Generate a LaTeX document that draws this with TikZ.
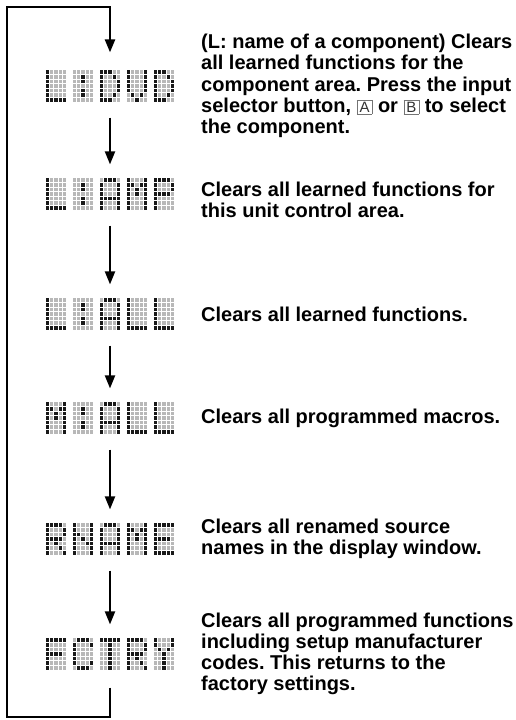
\documentclass[tikz,border=0pt]{standalone}
\usepackage{fontspec}
\setmainfont{Liberation Sans}
\usepackage{xcolor}
\usepackage{tikz}
\usetikzlibrary{arrows.meta}
\frenchspacing
\newcommand{\descsize}{\fontsize{20}{21.2}\selectfont}
\newcommand{\keybox}[1]{{\setlength{\fboxsep}{1.4pt}\setlength{\fboxrule}{0.7pt}%
  \fcolorbox{black!55}{white}{\makebox[11.5pt]{\mdseries\fontsize{15}{15}\selectfont\color{black!80}#1}}}}
% 5x7 dot patterns, rows top to bottom
\newcommand{\glyphL}{{1,0,0,0,0},{1,0,0,0,0},{1,0,0,0,0},{1,0,0,0,0},{1,0,0,0,0},{1,0,0,0,0},{1,1,1,1,1}}
\newcommand{\glyphcolon}{{0,0,0,0,0},{0,0,1,0,0},{0,0,1,0,0},{0,0,0,0,0},{0,0,1,0,0},{0,0,1,0,0},{0,0,0,0,0}}
\newcommand{\glyphD}{{1,1,1,0,0},{1,0,0,1,0},{1,0,0,0,1},{1,0,0,0,1},{1,0,0,0,1},{1,0,0,1,0},{1,1,1,0,0}}
\newcommand{\glyphV}{{1,0,0,0,1},{1,0,0,0,1},{1,0,0,0,1},{1,0,0,0,1},{1,0,0,0,1},{0,1,0,1,0},{0,0,1,0,0}}
\newcommand{\glyphA}{{0,1,1,1,0},{1,0,0,0,1},{1,0,0,0,1},{1,0,0,0,1},{1,1,1,1,1},{1,0,0,0,1},{1,0,0,0,1}}
\newcommand{\glyphM}{{1,0,0,0,1},{1,1,0,1,1},{1,0,1,0,1},{1,0,1,0,1},{1,0,0,0,1},{1,0,0,0,1},{1,0,0,0,1}}
\newcommand{\glyphP}{{1,1,1,1,0},{1,0,0,0,1},{1,0,0,0,1},{1,1,1,1,0},{1,0,0,0,0},{1,0,0,0,0},{1,0,0,0,0}}
\newcommand{\glyphR}{{1,1,1,1,0},{1,0,0,0,1},{1,0,0,0,1},{1,1,1,1,0},{1,0,1,0,0},{1,0,0,1,0},{1,0,0,0,1}}
\newcommand{\glyphN}{{1,0,0,0,1},{1,0,0,0,1},{1,1,0,0,1},{1,0,1,0,1},{1,0,0,1,1},{1,0,0,0,1},{1,0,0,0,1}}
\newcommand{\glyphE}{{1,1,1,1,1},{1,0,0,0,0},{1,0,0,0,0},{1,1,1,1,0},{1,0,0,0,0},{1,0,0,0,0},{1,1,1,1,1}}
\newcommand{\glyphF}{{1,1,1,1,1},{1,0,0,0,0},{1,0,0,0,0},{1,1,1,1,0},{1,0,0,0,0},{1,0,0,0,0},{1,0,0,0,0}}
\newcommand{\glyphC}{{0,1,1,1,0},{1,0,0,0,1},{1,0,0,0,0},{1,0,0,0,0},{1,0,0,0,0},{1,0,0,0,1},{0,1,1,1,0}}
\newcommand{\glyphT}{{1,1,1,1,1},{0,0,1,0,0},{0,0,1,0,0},{0,0,1,0,0},{0,0,1,0,0},{0,0,1,0,0},{0,0,1,0,0}}
\newcommand{\glyphY}{{1,0,0,0,1},{1,0,0,0,1},{0,1,0,1,0},{0,0,1,0,0},{0,0,1,0,0},{0,0,1,0,0},{0,0,1,0,0}}
\tikzset{
  >={Triangle[length=13pt,width=10pt]},
  disp/.style  ={rectangle, inner sep=0pt, outer sep=0pt,
                 minimum width=128pt, minimum height=31.2pt},
  lit/.style   ={fill=black!90},
  unlit/.style ={fill=black!28},
  desc/.style  ={anchor=west, inner sep=0pt, align=left,
                 font=\descsize\bfseries},
  flow/.style  ={->, draw, line width=2pt, shorten <=16pt, shorten >=14pt},
  back/.style  ={->, draw, line width=2.4pt, shorten <=18pt, shorten >=18pt},
}
\newcommand{\lcd}[3]{%
  \node[disp] (#1) at (110,#2) {};
  \begin{scope}[shift={(#1.north west)}]
    \foreach \ch [count=\k from 0] in {#3} {
      \expandafter\let\expandafter\curglyph\csname glyph\ch\endcsname
      \foreach \row [count=\r from 0] in \curglyph {
        \foreach \b [count=\c from 0] in \row {
          \ifnum\b=1 \fill[lit] (\k*27+\c*4.2,\r*4.6) rectangle ++(3.2,3.6);
          \else \fill[unlit] (\k*27+\c*4.2,\r*4.6) rectangle ++(3.2,3.6);
          \fi
        }
      }
    }
  \end{scope}
}
\begin{document}
\begin{tikzpicture}[x=1pt,y=-1pt]
\useasboundingbox (0,0) rectangle (515,720);
\lcd{dvd}{86}{L,colon,D,V,D}
\lcd{amp}{194}{L,colon,A,M,P}
\lcd{lall}{314}{L,colon,A,L,L}
\lcd{mall}{418}{M,colon,A,L,L}
\lcd{rname}{539}{R,N,A,M,E}
\lcd{fctry}{654}{F,C,T,R,Y}
\node[desc] (tdvd)   at (201,86)  {(L: name of a component) Clears\\all learned functions for the\\component area. Press the input\\selector button, \keybox{A} or \keybox{B} to select\\the component.};
\node[desc] (tamp)   at (201,200) {Clears all learned functions for\\this unit control area.};
\node[desc] (tlall)  at (201,314) {Clears all learned functions.};
\node[desc] (tmall)  at (201,418) {Clears all programmed macros.};
\node[desc] (trname) at (201,539) {Clears all renamed source\\names in the display window.};
\node[desc] (tfctry) at (201,654) {Clears all programmed functions\\including setup manufacturer\\codes. This returns to the\\factory settings.};
\coordinate (bl) at (7,717);
\coordinate (tl) at (7,7);
\draw[flow] (dvd)   -- (amp);
\draw[flow] (amp)   -- (lall);
\draw[flow] (lall)  -- (mall);
\draw[flow] (mall)  -- (rname);
\draw[flow] (rname) -- (fctry);
\draw[back] (fctry) -- (fctry |- bl) -- (bl) -- (tl) -- (tl -| dvd) -- (dvd);
\end{tikzpicture}
\end{document}
